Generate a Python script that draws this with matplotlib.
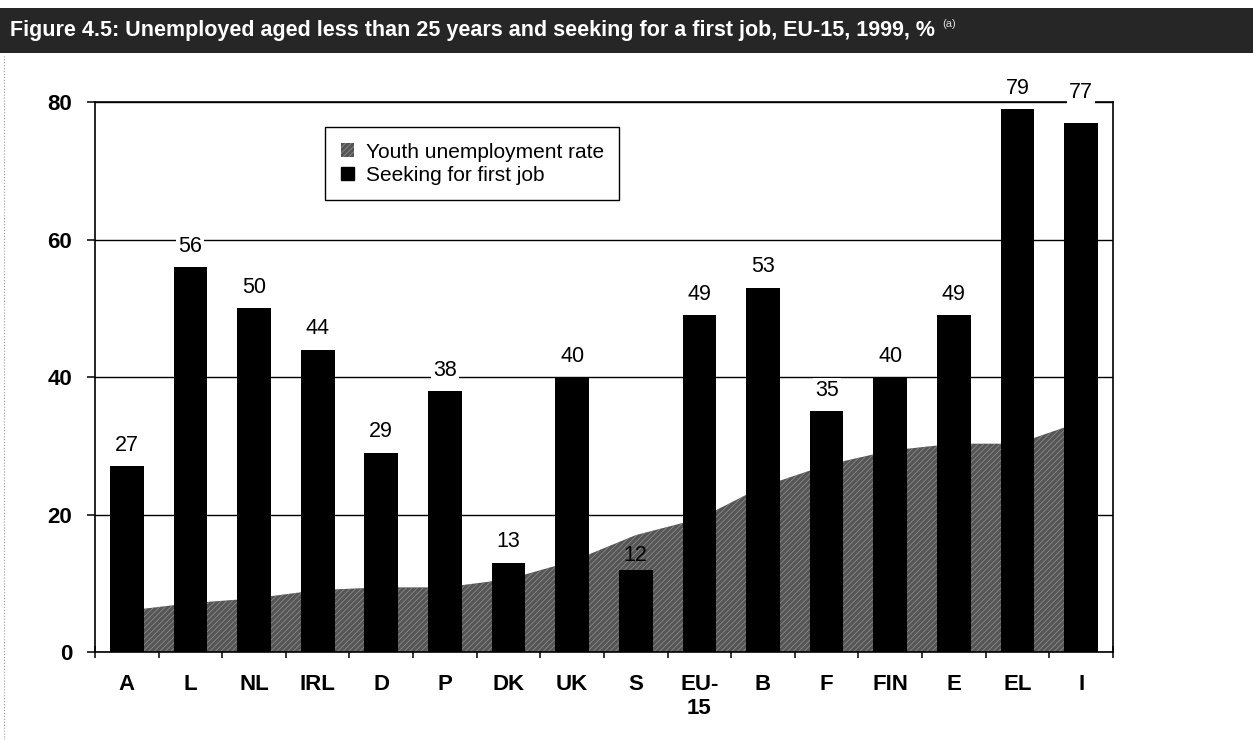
import matplotlib
matplotlib.use("Agg")
import matplotlib.pyplot as plt
from matplotlib.patches import Rectangle, Patch
from matplotlib.lines import Line2D

plt.rcParams.update({
    "font.family": ["Liberation Sans", "DejaVu Sans"],
    "hatch.linewidth": 0.6,
    "axes.linewidth": 1.2,
})

# Eurostat, 1999: share of unemployed under 25 seeking a first job (bars)
# and the youth unemployment rate (shaded area), %.
countries = ["A", "L", "NL", "IRL", "D", "P", "DK", "UK", "S", "EU-\n15",
             "B", "F", "FIN", "E", "EL", "I"]
first_job = [27, 56, 50, 44, 29, 38, 13, 40, 12, 49, 53, 35, 40, 49, 79, 77]
youth_rate = [6.0, 7.1, 7.8, 9.0, 9.4, 9.4, 10.6, 13.2, 17.0, 19.4,
              24.1, 27.2, 29.3, 30.3, 30.3, 33.5]
y_ticks = [0, 20, 40, 60, 80]

AREA_FACE, AREA_HATCH = "#555555", "#8a8a8a"
AREA_PATTERN = "//////"

fig = plt.figure(figsize=(12.53, 7.40), dpi=100)
ax = fig.add_axes([0.0758, 0.1189, 0.8124, 0.7432])

xs = list(range(len(countries)))
ax.fill_between(xs, youth_rate, 0, facecolor=AREA_FACE, edgecolor=AREA_HATCH,
                hatch=AREA_PATTERN, linewidth=0, zorder=1)
ax.bar(xs, first_job, width=0.53, color="black", zorder=3)

# value labels; two of them were shifted by hand in the original layout
nudge = {"I": 7, "S": -5}
for i, v in enumerate(first_job):
    inside_area = v < youth_rate[i]
    box = None if inside_area else dict(facecolor="white", edgecolor="none", pad=1.5)
    ax.annotate(str(v), (i, v), xytext=(0, 11 + nudge.get(countries[i], 0)),
                textcoords="offset points", ha="center", va="baseline",
                fontsize=15.5, color="black", bbox=box, zorder=4,
                annotation_clip=False)

ax.set_xlim(-0.5, len(countries) - 0.5)
ax.set_ylim(0, 80)
ax.set_yticks(y_ticks)
ax.set_yticklabels([str(t) for t in y_ticks], fontsize=16, fontweight="bold")
ax.yaxis.grid(True, color="black", lw=1.0)
ax.set_axisbelow(True)
ax.tick_params(axis="y", direction="out", length=5.5, width=1.1, pad=11)

ax.set_xticks(xs)
ax.set_xticklabels(countries, fontsize=16, fontweight="bold", linespacing=1.2)
ax.set_xticks([i - 0.5 for i in range(len(countries) + 1)], minor=True)
ax.tick_params(axis="x", which="major", length=0, pad=16)
ax.tick_params(axis="x", which="minor", direction="inout", length=8, width=1.1)

handles = [Patch(facecolor=AREA_FACE, edgecolor=AREA_HATCH, hatch=AREA_PATTERN, lw=0),
           Patch(facecolor="black", edgecolor="black")]
leg = ax.legend(handles, ["Youth unemployment rate", "Seeking for first job"],
                loc="upper left", bbox_to_anchor=(0.226, 0.9545), fontsize=15,
                frameon=True, fancybox=False, edgecolor="black", framealpha=1,
                handlelength=0.65, handleheight=0.65, handletextpad=0.55,
                labelspacing=0.2, borderpad=0.75, borderaxespad=0)
leg.get_frame().set_linewidth(1.0)

# dark title band across the top
fig.add_artist(Rectangle((0, 0.929), 1, 0.0605, transform=fig.transFigure,
                         facecolor="#262626", edgecolor="none"))
title = fig.text(0.008, 0.959,
                 "Figure 4.5: Unemployed aged less than 25 years and seeking "
                 "for a first job, EU-15, 1999, %",
                 color="white", fontweight="bold", fontsize=15.5, va="center", ha="left")
fig.canvas.draw()
bb = title.get_window_extent()
fig.text((bb.x1 + 7) / fig.bbox.width, 0.967, "(a)", color="#dddddd",
         fontsize=8, va="center", ha="left")

# faint page edge on the left
fig.add_artist(Line2D([0.003, 0.003], [0, 0.925], transform=fig.transFigure,
                      color="#9a9a9a", lw=0.8, ls=":"))

fig.savefig("out.png", facecolor="white")
